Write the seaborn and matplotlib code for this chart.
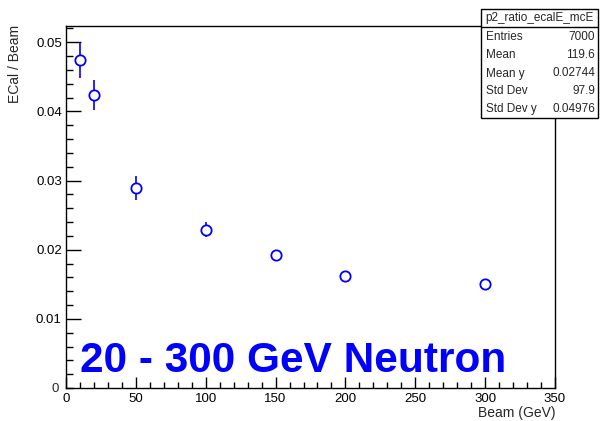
import matplotlib
matplotlib.use("Agg")
import matplotlib.pyplot as plt
import seaborn as sns
import pandas as pd
from matplotlib.ticker import MultipleLocator, FixedFormatter, FixedLocator

# ---- data ----
beam = [10, 20, 50, 100, 150, 200, 300]
ratio = [0.0474, 0.0424, 0.0289, 0.0229, 0.0193, 0.0162, 0.0150]
ratio_err = [0.0025, 0.0022, 0.0017, 0.0011, 0.0006, 0.0004, 0.0002]

stats_title = "p2_ratio_ecalE_mcE"
stats_names = ["Entries", "Mean", "Mean y", "Std Dev", "Std Dev y"]
stats_values = ["7000", "119.6", "0.02744", "97.9", "0.04976"]

xticks = [0, 50, 100, 150, 200, 250, 300, 350]
xtick_labels = ["0", "50", "100", "150", "200", "250", "300", "350"]
yticks = [0.01, 0.02, 0.03, 0.04, 0.05]
ytick_labels = ["0.01", "0.02", "0.03", "0.04", "0.05"]

df = pd.DataFrame({"beam": beam, "ratio": ratio, "err": ratio_err})

sns.set_style("white")
plt.rcParams["font.family"] = ["Liberation Sans", "DejaVu Sans"]

W, H = 605, 421
fig = plt.figure(figsize=(W / 100, H / 100), dpi=100)
L, R, B, T = 66, 555, 388, 25.7
ax = fig.add_axes([L / W, (H - B) / H, (R - L) / W, (B - T) / H])

blue = "#0000ff"
ax.errorbar(df["beam"], df["ratio"], yerr=df["err"], fmt="none",
            ecolor=blue, elinewidth=1.2, capsize=0, zorder=2)
sns.scatterplot(data=df, x="beam", y="ratio", ax=ax, marker="o", s=55,
                facecolor="white", edgecolor=blue, linewidth=1.3, zorder=3)

ax.set_xlim(0, 350)
ax.set_ylim(0, 0.0524)
ax.xaxis.set_major_locator(FixedLocator(xticks))
ax.xaxis.set_major_formatter(FixedFormatter(xtick_labels))
ax.xaxis.set_minor_locator(MultipleLocator(10))
ax.yaxis.set_major_locator(FixedLocator(yticks))
ax.yaxis.set_major_formatter(FixedFormatter(ytick_labels))
ax.yaxis.set_minor_locator(MultipleLocator(0.002))

ax.tick_params(axis="both", which="both", direction="in", top=False, right=False,
               bottom=True, left=True, colors="black", labelsize=9.5, width=1.0)
ax.tick_params(axis="x", which="major", length=7.9, pad=3.5)
ax.tick_params(axis="x", which="minor", length=4.0)
ax.tick_params(axis="y", which="major", length=10.6, pad=3)
ax.tick_params(axis="y", which="minor", length=5.3)
for s in ax.spines.values():
    s.set_visible(True)
    s.set_color("black")
    s.set_linewidth(1.0)

ax.set_xlabel("")
ax.set_ylabel("")
# zero labels, ROOT-style
fig.text(55 / W, 1 - 389 / H, "0", ha="center", va="center", fontsize=9.5)
fig.text(15 / W, 1 - 25 / H, "ECal / Beam", rotation=90, ha="center", va="top", fontsize=10)
fig.text(555 / W, 1 - 413 / H, "Beam (GeV)", ha="right", va="center", fontsize=10)

fig.text(80 / W, 1 - 372 / H, "20 - 300 GeV Neutron", ha="left", va="baseline",
         fontsize=30.5, fontweight="bold", color=blue)

# stats box
bx0, bx1, by0, by1 = 481, 598, 9, 118
sep = 27
box = plt.Rectangle((bx0 / W, 1 - by1 / H), (bx1 - bx0) / W, (by1 - by0) / H,
                    transform=fig.transFigure, facecolor="white", edgecolor="black",
                    linewidth=1.0, zorder=10)
fig.add_artist(box)
fig.add_artist(plt.Line2D([bx0 / W, bx1 / W], [1 - sep / H, 1 - sep / H],
                          transform=fig.transFigure, color="black", linewidth=1.0, zorder=11))
fig.text((bx0 + bx1) / 2 / W, 1 - 18 / H, stats_title, ha="center", va="center",
         fontsize=8.5, zorder=12)
rows_y = [37, 55.5, 73.5, 91.5, 109]
for name, val, yy in zip(stats_names, stats_values, rows_y):
    fig.text(486 / W, 1 - yy / H, name, ha="left", va="center", fontsize=8.5, zorder=12)
    fig.text(595 / W, 1 - yy / H, val, ha="right", va="center", fontsize=8.5, zorder=12)

fig.savefig("out.png", dpi=100)
